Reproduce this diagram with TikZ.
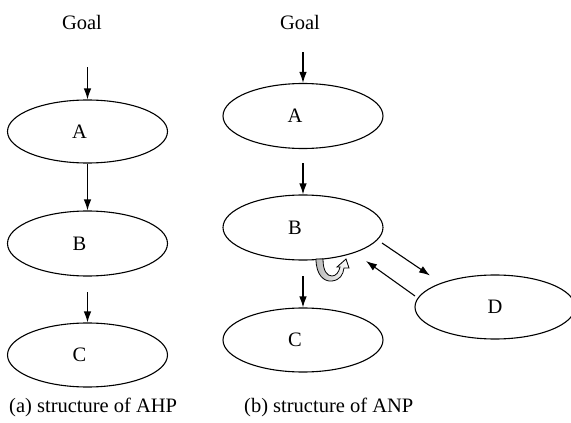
\documentclass[tikz,border=0pt]{standalone}
\usepackage{fontspec}
\setmainfont{Liberation Serif}
\usetikzlibrary{shapes.geometric,arrows.meta}
\begin{document}
\begin{tikzpicture}[x=1pt,y=-1pt,
  every node/.style={font=\fontsize{20.5}{24}\selectfont},
  ell/.style={draw,ellipse,line width=1.1pt,inner sep=0pt,minimum width=160pt,minimum height=64pt},
  arr/.style={line width=1.1pt,-{Latex[length=11pt,width=7.5pt]}},
  lbl/.style={inner sep=0pt}]
\useasboundingbox (0,0) rectangle (571,423);
\clip (0,0) rectangle (571,423);
% left: AHP
\node[lbl] (goalL) at (82,22) {Goal};
\node[ell,minimum height=63pt] (AL) at (87.5,131.5) {\kern-16pt A};
\node[ell,minimum height=65pt] (BL) at (87.5,243.5) {\kern-16pt B};
\node[ell] (CL) at (87.5,355) {\kern-16pt C};
\coordinate (gL) at (87.5,67);
\coordinate (bcL) at (87.5,292);
\draw[arr] (gL) -- (AL.north);
\draw[arr] (AL.south) -- (BL.north);
\draw[arr] (bcL) -- (CL.north);
% right: ANP
\node[lbl] (goalR) at (300,22) {Goal};
\node[ell,minimum height=65pt] (AR) at (303,116) {\kern-16pt A};
\node[ell,minimum height=65pt] (BR) at (303,227.5) {\kern-16pt B};
\node[ell] (CR) at (303,340) {\kern-16pt C};
\node[ell] (DR) at (495,307) {\kern-0pt D};
\coordinate (gR) at (303,52);
\coordinate (abR) at (303,163);
\coordinate (bcR) at (303,276);
\coordinate (bd1) at (382,243);
\coordinate (db1) at (415,296);
\coordinate (db2) at (366,261);
\draw[arr] (gR) -- (AR.north);
\draw[arr] (abR) -- (BR.north);
\draw[arr] (bcR) -- (CR.north);
\draw[arr] (bd1) -- (430,275.5);
\draw[arr] (db1) -- (db2);
% self loop on B
\draw[line width=0.8pt,left color=gray!55,right color=white]
  (316,259) .. controls (316,275) and (324,282) .. (332,281)
  .. controls (340,280) and (343,275) .. (344,268)
  -- (349,268) -- (346,259) -- (337,267) -- (340,267)
  .. controls (339,272) and (336,276) .. (332,276)
  .. controls (327,276) and (323,271) .. (323,259) -- cycle;
% captions
\node[lbl,anchor=west] (capA) at (9,407) {(a) structure of AHP};
\node[lbl,anchor=west] (capB) at (244,407) {(b) structure of ANP};
\end{tikzpicture}
\end{document}
